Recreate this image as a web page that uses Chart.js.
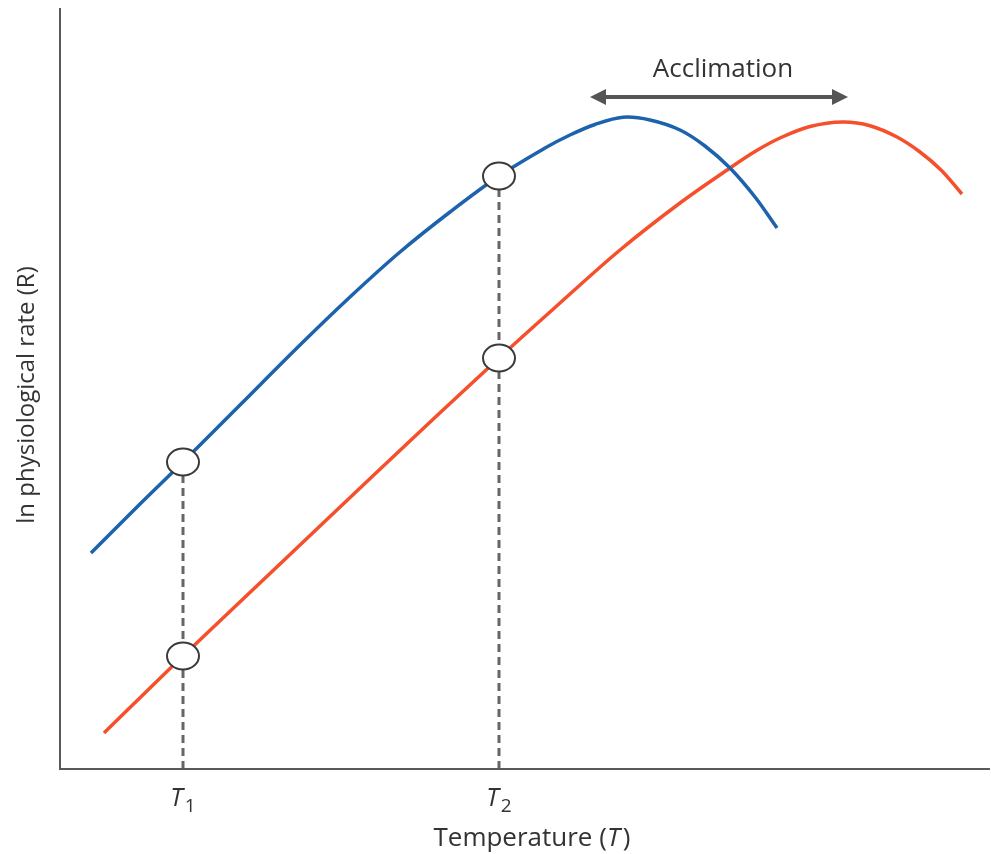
<!DOCTYPE html>
<html lang="en">
<head>
<meta charset="UTF-8" />
<title>Thermal acclimation</title>
<script src="https://cdn.jsdelivr.net/npm/chart.js@4"></script>
<style>
  body { margin: 0; background: #fff; }
  .chartBox { width: 991px; height: 854px; }
</style>
</head>
<body>
<div class="chartBox">
  <canvas id="myChart" width="991" height="854"></canvas>
</div>
<script>
// temperature (arbitrary units) vs ln rate
const coldT = [3.1, 8.0, 12.3, 18.0, 24.0, 29.0, 34.0, 39.0, 43.9, 48.5, 51.0, 53.5, 56.3, 59.0, 62.0, 64.5, 67.0, 69.5, 71.7];
const coldR = [21.6, 26.5, 30.7, 36.4, 42.4, 47.2, 51.7, 55.7, 59.3, 62.1, 63.4, 64.45, 65.17, 64.9, 63.9, 62.3, 60.1, 57.2, 54.1];

const warmT = [4.4, 12.3, 22.0, 31.7, 43.9, 50.0, 56.0, 62.0, 67.0, 69.5, 72.0, 75.0, 78.3, 81.0, 83.7, 86.0, 88.1, 90.2];
const warmR = [3.6, 11.3, 20.5, 29.7, 41.1, 46.6, 51.9, 56.6, 60.1, 61.75, 63.1, 64.25, 64.7, 64.33, 63.2, 61.7, 59.9, 57.5];

const tickT = [12.3, 43.9];
const tickLabels = ['1', '2'];
const markerColdR = [30.7, 59.3];
const markerWarmR = [11.3, 41.1];

const arrowT = [53.0, 78.8];
const arrowR = 67.2;

const BLUE = '#1c62ad';
const RED = '#f5502b';
const GREY = '#595959';
const TEXT = '#333333';
const FONT = '"Open Sans", "DejaVu Sans", sans-serif';

function pts(xs, ys) {
    return xs.map((x, i) => ({ x: x, y: ys[i] }));
}

// oval marker like the figure's open circles
const oval = document.createElement('canvas');
oval.width = 36; oval.height = 32;
(function () {
    const c = oval.getContext('2d');
    c.beginPath();
    c.ellipse(18, 16, 16, 13.5, 0, 0, Math.PI * 2);
    c.fillStyle = '#fff';
    c.fill();
    c.lineWidth = 2;
    c.strokeStyle = '#3a3a3a';
    c.stroke();
})();

const markers = [];
tickT.forEach((t, i) => {
    markers.push({ x: t, y: markerColdR[i] });
    markers.push({ x: t, y: markerWarmR[i] });
});

const datasets = [{
    label: 'cold',
    data: pts(coldT, coldR),
    borderColor: BLUE,
    borderWidth: 3.5,
    pointRadius: 0,
    tension: 0.35,
    fill: false,
    order: 1
}, {
    label: 'warm',
    data: pts(warmT, warmR),
    borderColor: RED,
    borderWidth: 3.5,
    pointRadius: 0,
    tension: 0.35,
    fill: false,
    order: 1
}];

tickT.forEach((t, i) => {
    datasets.push({
        label: 'drop' + i,
        data: [{ x: t, y: markerColdR[i] }, { x: t, y: 0 }],
        borderColor: '#666',
        borderWidth: 3,
        borderDash: [8, 5],
        pointRadius: 0,
        fill: false,
        order: 2
    });
});

datasets.push({
    label: 'markers',
    data: markers,
    showLine: false,
    pointStyle: oval,
    pointRadius: 15,
    order: 0
});

const extras = {
    id: 'extras',
    afterDraw(chart) {
        const ctx = chart.ctx;
        const a = chart.chartArea;
        const xs = chart.scales.x;
        const ys = chart.scales.y;
        ctx.save();

        // axes
        ctx.strokeStyle = GREY;
        ctx.lineWidth = 2;
        ctx.beginPath();
        ctx.moveTo(a.left, a.top);
        ctx.lineTo(a.left, a.bottom);
        ctx.lineTo(a.right, a.bottom);
        ctx.stroke();

        ctx.fillStyle = TEXT;
        ctx.textBaseline = 'alphabetic';

        // tick labels T1, T2
        tickT.forEach((t, i) => {
            const px = xs.getPixelForValue(t);
            ctx.font = 'italic 25px ' + FONT;
            const w1 = ctx.measureText('T').width;
            ctx.font = '19px ' + FONT;
            const w2 = ctx.measureText(tickLabels[i]).width;
            const x0 = px - (w1 + w2 + 2) / 2;
            ctx.font = 'italic 25px ' + FONT;
            ctx.textAlign = 'left';
            ctx.fillText('T', x0, a.bottom + 37);
            ctx.font = '19px ' + FONT;
            ctx.fillText(tickLabels[i], x0 + w1 + 2, a.bottom + 43);
        });

        // x title
        const parts = [['Temperature (', '26px '], ['T', 'italic 26px '], [')', '26px ']];
        let total = 0;
        parts.forEach(p => { ctx.font = p[1] + FONT; total += ctx.measureText(p[0]).width + (p[0] === 'T' ? 3 : 0); });
        let cx = 532 - total / 2;
        parts.forEach(p => {
            ctx.font = p[1] + FONT;
            ctx.fillText(p[0], cx, 846);
            cx += ctx.measureText(p[0]).width + (p[0] === 'T' ? 3 : 0);
        });

        // y title
        ctx.save();
        ctx.translate(34, 395);
        ctx.rotate(-Math.PI / 2);
        ctx.textAlign = 'center';
        ctx.font = '24px ' + FONT;
        ctx.fillText('ln physiological rate (R)', 0, 0);
        ctx.restore();

        // acclimation arrow
        const x1 = xs.getPixelForValue(arrowT[0]);
        const x2 = xs.getPixelForValue(arrowT[1]);
        const y = ys.getPixelForValue(arrowR);
        ctx.strokeStyle = '#555';
        ctx.fillStyle = '#555';
        ctx.lineWidth = 4;
        ctx.beginPath();
        ctx.moveTo(x1 + 12, y);
        ctx.lineTo(x2 - 12, y);
        ctx.stroke();
        ctx.beginPath();
        ctx.moveTo(x1, y);
        ctx.lineTo(x1 + 16, y - 8);
        ctx.lineTo(x1 + 16, y + 8);
        ctx.closePath();
        ctx.fill();
        ctx.beginPath();
        ctx.moveTo(x2, y);
        ctx.lineTo(x2 - 16, y - 8);
        ctx.lineTo(x2 - 16, y + 8);
        ctx.closePath();
        ctx.fill();

        ctx.fillStyle = TEXT;
        ctx.textAlign = 'center';
        ctx.font = '26px ' + FONT;
        ctx.fillText('Acclimation', (x1 + x2) / 2 + 4, y - 20);

        ctx.restore();
    }
};

new Chart(document.getElementById('myChart'), {
    type: 'line',
    data: { datasets: datasets },
    options: {
        responsive: false,
        animation: false,
        layout: { autoPadding: false, padding: { left: 60, right: 1, top: 8, bottom: 85 } },
        plugins: { legend: { display: false }, tooltip: { enabled: false } },
        scales: {
            x: { type: 'linear', min: 0, max: 93, display: false },
            y: { type: 'linear', min: 0, max: 76.1, display: false }
        }
    },
    plugins: [extras]
});
</script>
</body>
</html>
